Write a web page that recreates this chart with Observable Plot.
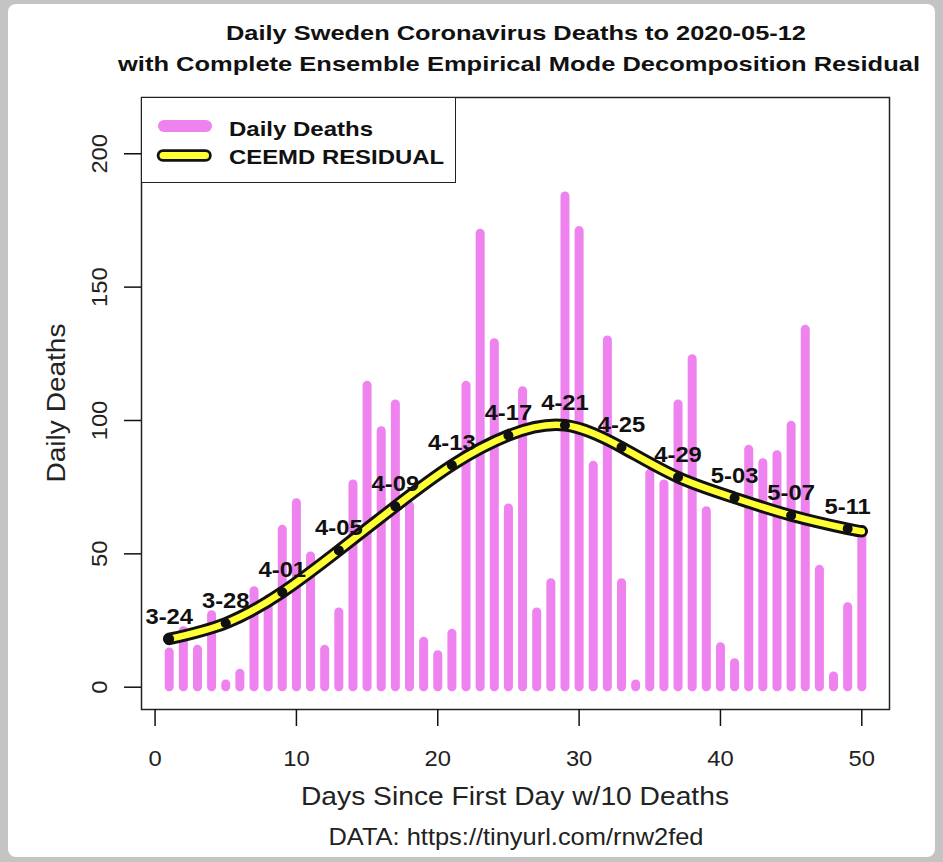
<!DOCTYPE html>
<html><head><meta charset="utf-8">
<script src="https://cdn.jsdelivr.net/npm/d3@7"></script>
<script src="https://cdn.jsdelivr.net/npm/@observablehq/plot@0.6"></script>
<style>
html,body{margin:0;padding:0;}
body{width:943px;height:862px;background:#c4c4c4;overflow:hidden;position:relative;font-family:"Liberation Sans",Arial,sans-serif;color:#111;}
#card{position:absolute;left:8px;top:4px;width:927px;height:853px;background:#fff;border-radius:8px;}
#chart{position:absolute;left:0;top:0;width:943px;height:862px;}
.t{position:absolute;white-space:nowrap;line-height:1;}
#legend{position:absolute;left:141px;top:97px;width:315px;height:86px;border:1.5px solid #222;background:#fff;box-sizing:border-box;}
#swatch{position:absolute;left:0;top:0;pointer-events:none;}
</style></head><body>
<div id="card"></div>
<div id="chart"></div>
<script>
// ---- data ----
const days = [1,2,3,4,5,6,7,8,9,10,11,12,13,14,15,16,17,18,19,20,21,22,23,24,25,26,27,28,29,30,31,32,33,34,35,36,37,38,39,40,41,42,43,44,45,46,47,48,49,50];
const deaths = [13,21,14,27,1,5,36,33,59,69,49,14,28,76,113,96,106,68,17,12,20,113,170,129,67,111,28,39,184,171,83,130,39,1,80,76,106,123,66,15,9,89,84,87,98,134,44,4,30,57];
const residDays = [1,5,9,13,17,21,25,29,33,37,41,45,49,50];
const residVals = [18.1,24.0,35.6,51.3,67.8,83.2,94.4,98.2,90.0,78.7,71.0,64.4,59.4,58.5];
const residLabels = ["3-24","3-28","4-01","4-05","4-09","4-13","4-17","4-21","4-25","4-29","5-03","5-07","5-11"];
const xTicks = [0,10,20,30,40,50];
const yTicks = [0,50,100,150,200];

const bars = days.map((d,i)=>({day:d, deaths:deaths[i]}));
const resid = residDays.map((d,i)=>({day:d, value:residVals[i], label: i < residLabels.length ? residLabels[i] : null}));
const labelled = resid.filter(d=>d.label);

const plot = Plot.plot({
  width:943, height:862,
  marginLeft:141, marginRight:54, marginTop:97, marginBottom:153,
  style:{background:"transparent", fontFamily:"Liberation Sans, Arial, sans-serif", fontSize:"21px", color:"#111"},
  x:{domain:[-0.96,51.96]},
  y:{domain:[-8.36,221.1]},
  marks:[
    Plot.ruleX(bars,{x:"day", y1:0, y2:"deaths", stroke:"#EE82EE", strokeWidth:9, strokeLinecap:"round"}),
    Plot.line(resid,{x:"day", y:"value", curve:"natural", stroke:"#111", strokeWidth:12.5, strokeLinecap:"round"}),
    Plot.line(resid,{x:"day", y:"value", curve:"natural", stroke:"#ffff33", strokeWidth:6.5, strokeLinecap:"round"}),
    Plot.dot(labelled,{x:"day", y:"value", r:5, fill:"#111"}),
    Plot.text(labelled,{x:"day", y:"value", text:"label", dy:-22, lineAnchor:"middle", textAnchor:"middle", fontWeight:"bold", fontSize:22, fill:"#111"}),
    Plot.frame({stroke:"#222", strokeWidth:1.5}),
    Plot.axisX({ticks:xTicks, tickSize:17, tickFormat:()=>"", label:null, strokeWidth:1.5}),
    Plot.axisY({ticks:yTicks, tickSize:17, tickFormat:()=>"", label:null, strokeWidth:1.5}),
    Plot.text(xTicks,{x:d=>d, frameAnchor:"bottom", dy:49, lineAnchor:"middle", textAnchor:"middle", fontSize:22, fill:"#222"}),
    Plot.text(yTicks,{y:d=>d, frameAnchor:"left", dx:-42, rotate:-90, textAnchor:"middle", lineAnchor:"middle", fontSize:22, fill:"#222"})
  ]
});
document.getElementById("chart").append(plot);
plot.querySelectorAll("text").forEach(t=>{
  const len = t.getComputedTextLength();
  if (len>0) { t.setAttribute("textLength", len*1.08); t.setAttribute("lengthAdjust","spacingAndGlyphs"); }
});

function addText(str, o){
  const el = document.createElement("div");
  el.className="t"; el.textContent=str;
  el.style.fontSize=o.size+"px"; el.style.fontWeight=o.weight||"normal";
  if (o.color) el.style.color=o.color;
  document.body.append(el);
  const w = el.getBoundingClientRect().width;
  const k = o.width ? o.width/w : 1;
  el.style.left=o.x+"px"; el.style.top=o.y+"px";
  if (o.anchor==="left"){
    el.style.transformOrigin="0 50%";
    el.style.transform=`translate(0,-50%) scaleX(${k})`;
  } else {
    el.style.transform=`translate(-50%,-50%) rotate(${o.rotate||0}deg) scaleX(${k})`;
  }
  return el;
}
addText("Daily Sweden Coronavirus Deaths to 2020-05-12",{x:516,y:32,size:21,weight:"bold",width:580});
addText("with Complete Ensemble Empirical Mode Decomposition Residual",{x:519,y:63,size:21,weight:"bold",width:802});
addText("Days Since First Day w/10 Deaths",{x:515,y:796,size:25,width:428,color:"#222"});
addText("DATA: https://tinyurl.com/rnw2fed",{x:516,y:837,size:24,width:375,color:"#222"});
addText("Daily Deaths",{x:56,y:402.5,size:25,width:159,rotate:-90,color:"#222"});

// legend
const lg = document.createElement("div"); lg.id="legend"; document.body.append(lg);
const ns="http://www.w3.org/2000/svg";
const sw = document.createElementNS(ns,"svg"); sw.id="swatch";
sw.setAttribute("width",943); sw.setAttribute("height",862);
function ln(x1,x2,y,stroke,w){const l=document.createElementNS(ns,"line");
  l.setAttribute("x1",x1);l.setAttribute("x2",x2);l.setAttribute("y1",y);l.setAttribute("y2",y);
  l.setAttribute("stroke",stroke);l.setAttribute("stroke-width",w);l.setAttribute("stroke-linecap","round");sw.append(l);}
ln(164,206,126,"#EE82EE",12);
ln(163,205.5,155.5,"#111",12.5);
ln(163,205.5,155.5,"#ffff33",7);
document.body.append(sw);
addText("Daily Deaths",{x:229,y:127.5,size:21,weight:"bold",width:144,anchor:"left"});
addText("CEEMD RESIDUAL",{x:229,y:155.8,size:21,weight:"bold",width:215,anchor:"left"});
</script>
</body></html>
